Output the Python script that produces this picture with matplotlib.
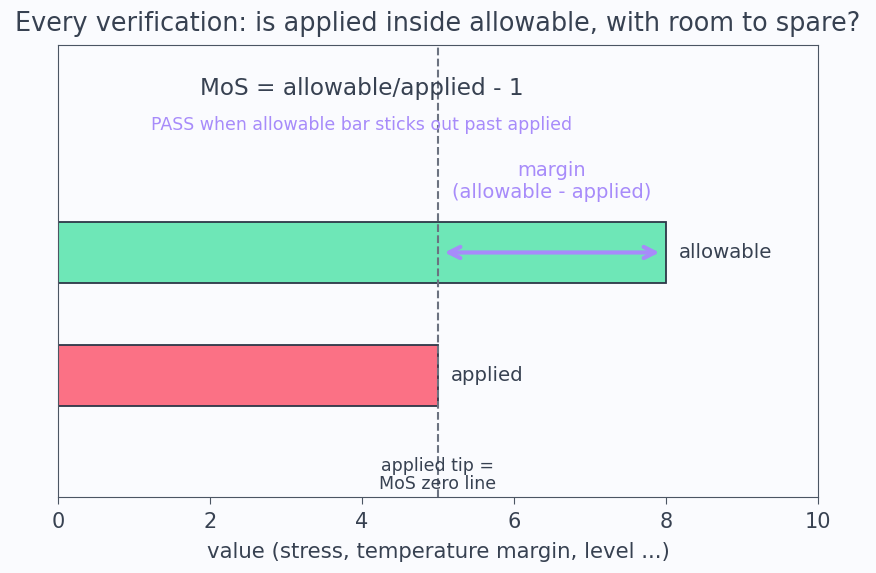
import matplotlib
matplotlib.use("Agg")
import matplotlib.pyplot as plt

plt.rcParams["font.family"] = ["DejaVu Sans"]

categories = ["applied", "allowable"]
values = [5, 8]
colors = ["#fb7185", "#6ee7b7"]
xticks = [0, 2, 4, 6, 8, 10]

txt = "#374151"
bg = "#fafbfe"
purple = "#a78bfa"

fig = plt.figure(figsize=(8.76, 5.73), dpi=100, facecolor=bg)
ax = fig.add_axes([58/876, 1-497/573, 760/876, 452/573], facecolor=bg)

ypos = list(range(len(categories)))
ax.barh(ypos, values, height=0.5, color=colors, edgecolor="#2d3748", linewidth=1.3, zorder=2)
for y, v, c in zip(ypos, values, categories):
    ax.text(v + 0.17, y, c, va="center", ha="left", fontsize=14.2, color=txt)

ax.axvline(values[0], color="#6b7280", linestyle="--", linewidth=1.5, zorder=3)
ax.annotate("", xy=(values[1] - 0.05, 1), xytext=(values[0] + 0.05, 1),
            arrowprops=dict(arrowstyle="<->", color=purple, lw=3, mutation_scale=20), zorder=4)
ax.text((values[0] + values[1]) / 2, 1.58, "margin\n(allowable - applied)", ha="center", va="center",
        fontsize=14, color=purple)
ax.text(0.4, 0.903, "MoS = allowable/applied - 1", transform=ax.transAxes, ha="center", va="center",
        fontsize=16.7, color=txt)
ax.text(0.4, 0.823, "PASS when allowable bar sticks out past applied", transform=ax.transAxes,
        ha="center", va="center", fontsize=12.5, color=purple)
ax.text(values[0], -0.81, "applied tip =\nMoS zero line", ha="center", va="center", fontsize=12.5,
        color=txt, linespacing=1.0)

ax.set_xlim(0, 10)
ax.set_ylim(-0.988, 2.687)
ax.set_xticks(xticks)
ax.set_xticklabels([str(t) for t in xticks], fontsize=15, color=txt)
ax.set_yticks([])
ax.tick_params(axis="x", colors="#4b5563", labelcolor=txt, length=5, pad=6)
for s in ax.spines.values():
    s.set_color("#4b5563")
ax.set_xlabel("value (stress, temperature margin, level ...)", fontsize=15.3, color=txt, labelpad=7)
ax.set_title("Every verification: is applied inside allowable, with room to spare?", fontsize=18.4,
             color=txt, pad=10)

fig.savefig("out.png", dpi=100, facecolor=bg)
